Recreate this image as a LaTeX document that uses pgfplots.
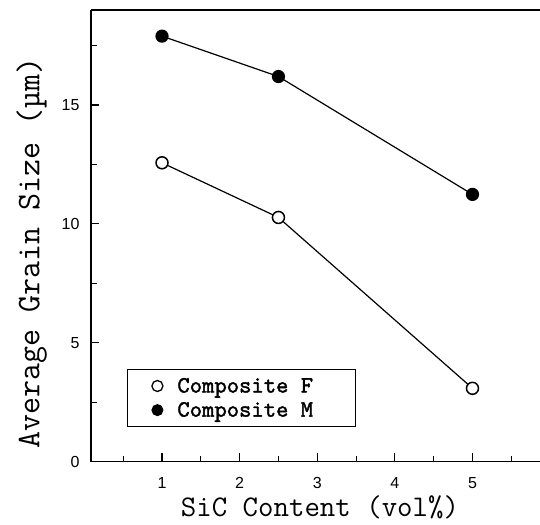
\documentclass[border=0pt]{standalone}
\usepackage{pgfplots}
\pgfplotsset{compat=1.18}
\usepackage{fontspec}
\setmainfont{Liberation Sans}
\newfontfamily\legfont{lmmono10-regular.otf}[FakeBold=1.6]
\begin{document}
\begin{tikzpicture}[x=1pt,y=1pt]
\begin{axis}[
  at={(0,0)}, anchor=south west,
  scale only axis, width=449pt, height=451.5pt,
  xmin=0.085, xmax=5.87, ymin=0, ymax=19,
  axis lines=left, axis line style={-, line width=1.1pt},
  clip=false,
  xtick={1,2,3,4,5}, minor xtick={0.5,1.5,2.5,3.5,4.5,5.5},
  ytick={0,5,10,15}, minor ytick={2.5,7.5,12.5,17.5},
  tick align=inside, major tick length=8pt, minor tick length=6pt,
  tick style={line width=1.1pt, black},
  ticklabel style={font=\fontsize{16}{16}\selectfont},
  /pgf/number format/assume math mode=true,
  xticklabel style={yshift=-12pt},
  yticklabel style={xshift=-8pt},
  xlabel={\ttfamily\fontsize{30}{30}\selectfont SiC Content (vol\%)},
  xlabel style={at={(axis description cs:0.51,-0.102)}, anchor=center},
  ylabel={\ttfamily\fontsize{33}{33}\selectfont Average Grain Size (µm)},
  ylabel style={at={(axis description cs:-0.132,0.462)}, anchor=center},
  legend style={at={(rel axis cs:0.080,0.205)}, anchor=north west,
    draw=black, line width=1pt, inner xsep=6pt, inner ysep=7pt,
    font=\legfont\fontsize{23.5}{23.5}\selectfont,
    nodes={font=\legfont\fontsize{23.5}{23.5}\selectfont, inner ysep=1.5pt},
    row sep=5pt,
    legend cell align=left},
  legend image code/.code={\path[draw=none] (0pt,0pt) -- (42pt,0pt); \draw[#1] plot coordinates {(24pt,0pt)};},
]
\addlegendimage{only marks, mark=*, mark size=5.5pt, mark options={fill=white, line width=1.3pt}}
\addlegendentry{Composite F\hspace*{34pt}}
\addlegendimage{only marks, mark=*, mark size=5.5pt, mark options={fill=black}}
\addlegendentry{Composite M\hspace*{34pt}}
\addplot[black, line width=1.2pt, mark=*, mark size=6pt, mark options={fill=black}, forget plot]
  coordinates {(1,17.9) (2.5,16.2) (5,11.24)};
\addplot[black, line width=1.2pt, mark=*, mark size=6pt, mark options={fill=white, line width=1.5pt}, forget plot]
  coordinates {(1,12.57) (2.5,10.27) (5,3.08)};
\draw[line width=1.1pt] (rel axis cs:0,1) -- (rel axis cs:1,1);
\end{axis}
\pgfresetboundingbox
\path (-91,-62.5) rectangle (449,461.5);
\end{tikzpicture}
\end{document}
